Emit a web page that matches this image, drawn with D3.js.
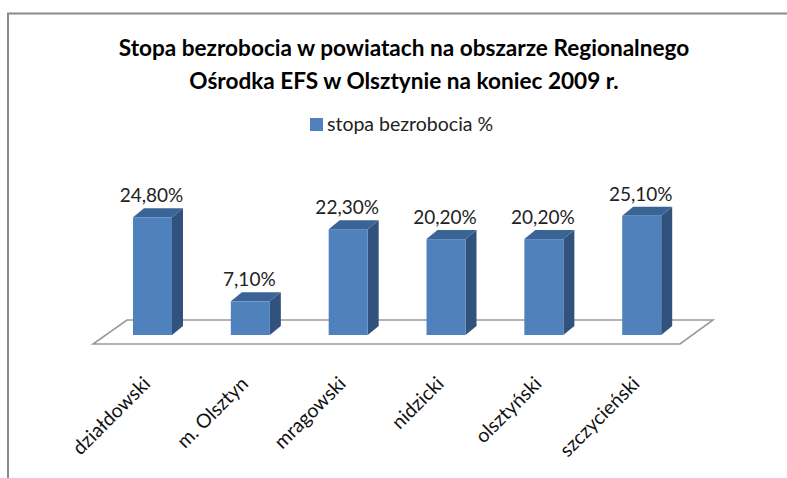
<!DOCTYPE html>
<html>
<head>
<meta charset="utf-8">
<script src="https://cdn.jsdelivr.net/npm/d3@7"></script>
<style>
  html, body { margin: 0; padding: 0; background: #fff; }
  svg { display: block; }
  text { font-family: Lato, "Open Sans", sans-serif; }
</style>
</head>
<body>
<svg id="chart" width="787" height="478"></svg>
<script>
const categories = ["działdowski", "m. Olsztyn", "mragowski", "nidzicki", "olsztyński", "szczycieński"];
const values = [24.8, 7.1, 22.3, 20.2, 20.2, 25.1];
const valueLabels = ["24,80%", "7,10%", "22,30%", "20,20%", "20,20%", "25,10%"];
const titleLines = ["Stopa bezrobocia w powiatach na obszarze Regionalnego", "Ośrodka EFS w Olsztynie na koniec 2009 r."];
const seriesName = "stopa bezrobocia %";

const svg = d3.select("#chart");
const W = 787, H = 478;

// frame (top + left edges visible)
svg.append("path")
  .attr("d", `M8,${H} L8,13.5 L${W},13.5`)
  .attr("fill", "none").attr("stroke", "#8a8a8a").attr("stroke-width", 2);

// title
const title = svg.append("text")
  .attr("text-anchor", "middle")
  .attr("font-weight", "bold")
  .attr("font-size", 22.6)
  .attr("fill", "#000");
titleLines.forEach((t, i) => {
  title.append("tspan").attr("x", 404).attr("y", 56 + i * 33).text(t);
});

// legend
const lg = svg.append("g");
lg.append("rect").attr("x", 310).attr("y", 118).attr("width", 13).attr("height", 13).attr("fill", "#4F81BD");
lg.append("text").attr("x", 327).attr("y", 131).attr("font-size", 19.5).attr("fill", "#222").text(seriesName);

// scales
const x = d3.scalePoint().domain(categories).range([152.5, 641.7]);
const y = d3.scaleLinear().domain([0, 30]).range([335, 192.6]);
const barW = 39, dx = 11, dy = 9;

// floor
const floorFront = 344, floorBack = 320;
svg.append("path")
  .attr("d", `M93,${floorFront} L680,${floorFront} L713,${floorBack} L127,${floorBack} Z`)
  .attr("fill", "#fff").attr("stroke", "#9a9a9a").attr("stroke-width", 1.6);

// bars
const data = categories.map((c, i) => ({ c, v: values[i], label: valueLabels[i] }));
const g = svg.append("g");
data.forEach(d => {
  const x0 = x(d.c) - barW / 2, x1 = x0 + barW;
  const yt = y(d.v), yb = y(0);
  g.append("path")
    .attr("d", `M${x1},${yt} L${x1 + dx},${yt - dy} L${x1 + dx},${yb - dy} L${x1},${yb} Z`)
    .attr("fill", "#31527D");
  g.append("path")
    .attr("d", `M${x0},${yt} L${x0 + dx},${yt - dy} L${x1 + dx},${yt - dy} L${x1},${yt} Z`)
    .attr("fill", "#3B6496");
  g.append("rect")
    .attr("x", x0).attr("y", yt).attr("width", barW).attr("height", yb - yt)
    .attr("fill", "#4F81BD");
  g.append("text")
    .attr("x", x(d.c) - 1).attr("y", yt - 15)
    .attr("text-anchor", "middle").attr("font-size", 19).attr("fill", "#222")
    .text(d.label);
});

// category axis labels (rotated)
const xa = svg.append("g");
categories.forEach(c => {
  xa.append("text")
    .attr("transform", `translate(${x(c) - 1},385) rotate(-45)`)
    .attr("text-anchor", "end")
    .attr("font-size", 19.5)
    .attr("fill", "#111")
    .text(c);
});
</script>
</body>
</html>
